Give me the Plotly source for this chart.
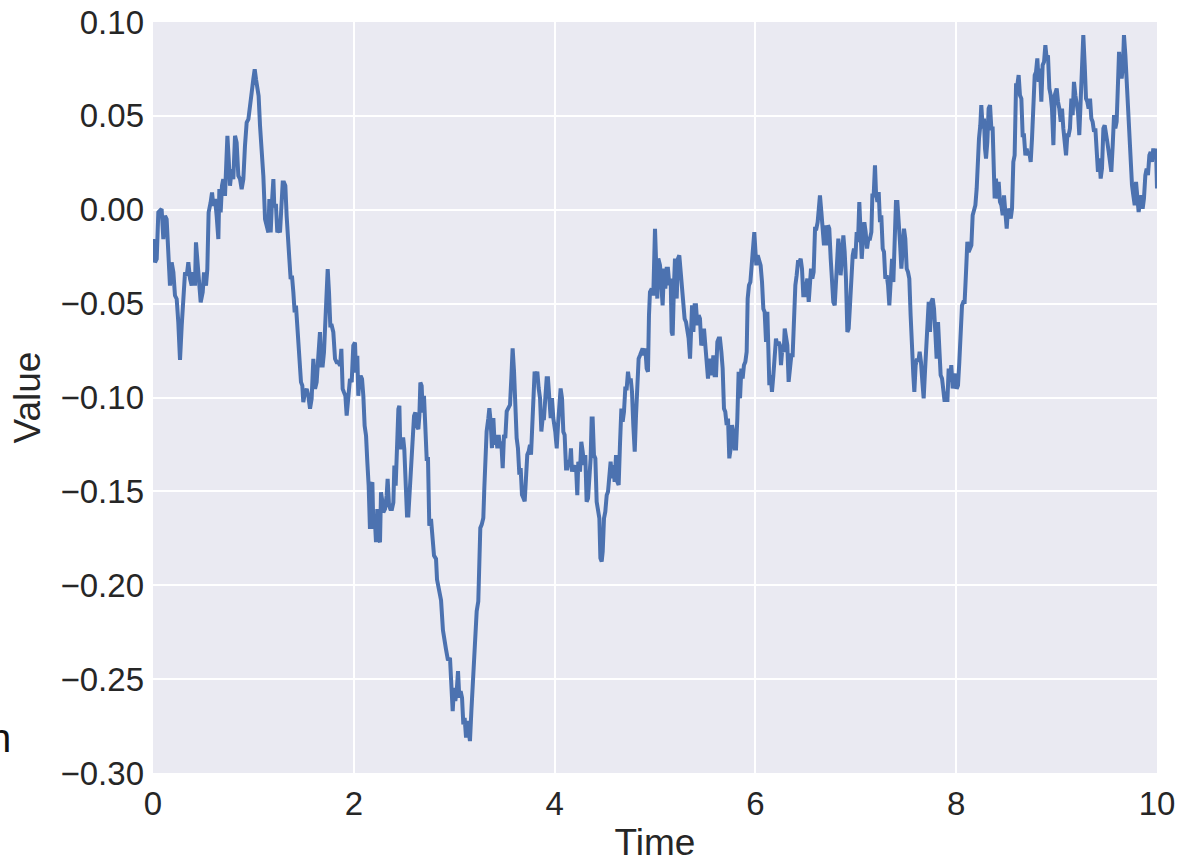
import plotly.graph_objects as go

# Time (x) and Value (y)
time_a = [0.000,0.003,0.020,0.037,0.053,0.086,0.103,0.120,0.136,0.153,0.169,0.186,0.203,0.219,0.236,0.252,0.269,0.286,0.302,0.319,0.336,0.352,0.369,0.385,0.402,0.418,0.428,0.442,0.462,0.475,0.495,0.508,0.528,0.541,0.554,0.574,0.588,0.601,0.618,0.634,0.651,0.661,0.674,0.687,0.700,0.717,0.727,0.741,0.754,0.767,0.784,0.800,0.817,0.833,0.850,0.867,0.883,0.900,0.916,0.933,0.950,0.966]
value_a = [-0.0175,-0.0156,-0.028,-0.0262,-0.0014,0.0004,-0.0156,-0.0032,-0.005,-0.0298,-0.0404,-0.028,-0.0333,-0.0457,-0.0475,-0.060,-0.080,-0.0617,-0.0511,-0.0333,-0.0351,-0.028,-0.0369,-0.0404,-0.0333,-0.0404,-0.0174,-0.0298,-0.0404,-0.0493,-0.044,-0.0333,-0.0404,-0.0316,-0.0014,0.0039,0.0092,0.0021,0.0057,-0.0032,-0.0156,0.011,-0.0014,0.0128,0.0163,0.0074,0.0234,0.0394,0.027,0.0128,0.0216,0.0163,0.0394,0.0358,0.0181,0.0163,0.011,0.0163,0.034,0.0465,0.0482,0.0535]

time_b = [0.983,0.999,1.013,1.026,1.039,1.052,1.066,1.082,1.099,1.116,1.132,1.149,1.159,1.172,1.185,1.199,1.208,1.225,1.238,1.252,1.265,1.278,1.292,1.305,1.318,1.331,1.345,1.358,1.371,1.384,1.398,1.411,1.424,1.438,1.451,1.464,1.474,1.487,1.497,1.514,1.531,1.547,1.564,1.580,1.597,1.614,1.630,1.647,1.663,1.673,1.690,1.703,1.716,1.730,1.740,1.753,1.766,1.780,1.796,1.813,1.829,1.846,1.863,1.876,1.889,1.902,1.916,1.929,1.946,1.962,1.979,1.995]
value_b = [0.0624,0.0695,0.0748,0.0695,0.0624,0.0606,0.0447,0.034,0.0181,-0.005,-0.0085,-0.0121,0.0057,-0.0121,0.0039,0.0163,0.0021,0.0021,-0.0121,-0.0103,-0.0121,0.0021,0.0145,0.0145,0.0128,-0.0032,-0.0121,-0.0262,-0.0369,-0.0351,-0.044,-0.0546,-0.0511,-0.0617,-0.0741,-0.0794,-0.0918,-0.0936,-0.1025,-0.0972,-0.0954,-0.099,-0.106,-0.1007,-0.0794,-0.0954,-0.0918,-0.0777,-0.0652,-0.083,-0.083,-0.0759,-0.0617,-0.044,-0.0316,-0.044,-0.0617,-0.0617,-0.0652,-0.0794,-0.0812,-0.0812,-0.083,-0.0741,-0.0954,-0.0972,-0.099,-0.1096,-0.099,-0.0901,-0.0918,-0.0723]

time_c = [2.012,2.022,2.035,2.045,2.055,2.068,2.082,2.095,2.108,2.122,2.135,2.148,2.161,2.171,2.185,2.195,2.208,2.221,2.234,2.248,2.261,2.271,2.281,2.294,2.311,2.327,2.337,2.351,2.364,2.380,2.394,2.404,2.417,2.430,2.444,2.454,2.463,2.477,2.493,2.503,2.517,2.530,2.543,2.560,2.573,2.586,2.600,2.613,2.626,2.643,2.653,2.663,2.676,2.686,2.699,2.712,2.726,2.739,2.752,2.769,2.782,2.799,2.819,2.829,2.869,2.888,2.918,2.938]
value_c = [-0.0707,-0.0867,-0.0778,-0.0991,-0.0902,-0.0885,-0.0902,-0.0991,-0.1151,-0.1204,-0.1346,-0.147,-0.170,-0.147,-0.1452,-0.170,-0.1629,-0.1771,-0.1594,-0.1754,-0.1771,-0.1505,-0.1541,-0.1612,-0.1594,-0.1523,-0.1434,-0.1576,-0.1594,-0.1594,-0.1559,-0.1363,-0.147,-0.1222,-0.1062,-0.1044,-0.1275,-0.1222,-0.1222,-0.1275,-0.1452,-0.1629,-0.1629,-0.1452,-0.1293,-0.1168,-0.1098,-0.108,-0.1151,-0.1168,-0.1098,-0.092,-0.0938,-0.108,-0.0991,-0.1151,-0.1328,-0.1328,-0.1683,-0.1647,-0.1754,-0.1842,-0.186,-0.197,-0.208,-0.224,-0.234,-0.240]

time_d = [2.958,2.971,2.985,2.998,3.011,3.025,3.038,3.051,3.064,3.078,3.091,3.104,3.118,3.131,3.144,3.157,3.171,3.191,3.207,3.224,3.240,3.250,3.260,3.274,3.290,3.300,3.310,3.323,3.340,3.350,3.363,3.376,3.390,3.403,3.416,3.430,3.443,3.456,3.469,3.483,3.496,3.509,3.523,3.539,3.556,3.569,3.582,3.596,3.609,3.622,3.635,3.649,3.662,3.675,3.689,3.702,3.715,3.728,3.742,3.755,3.765,3.775,3.788,3.801,3.815,3.828,3.841,3.855,3.868,3.881,3.894,3.908,3.921,3.934,3.948,3.961,3.974,3.987]
value_d = [-0.2387,-0.2564,-0.267,-0.2546,-0.2617,-0.2564,-0.2457,-0.2599,-0.2564,-0.2599,-0.2741,-0.2706,-0.2812,-0.2723,-0.2777,-0.283,-0.267,-0.2493,-0.2333,-0.2138,-0.2085,-0.189,-0.1695,-0.1677,-0.1642,-0.1482,-0.127,-0.1181,-0.111,-0.1057,-0.1128,-0.127,-0.111,-0.1252,-0.1199,-0.127,-0.1199,-0.127,-0.1234,-0.1376,-0.1199,-0.1216,-0.1074,-0.1057,-0.1039,-0.0897,-0.0738,-0.0862,-0.1074,-0.1216,-0.127,-0.1411,-0.1376,-0.1518,-0.1535,-0.1553,-0.1429,-0.1305,-0.1287,-0.1252,-0.1305,-0.1163,-0.1039,-0.0862,-0.0915,-0.0862,-0.095,-0.1004,-0.1181,-0.111,-0.111,-0.1021,-0.0897,-0.0897,-0.1004,-0.111,-0.1004,-0.111]

time_e = [4.007,4.021,4.034,4.047,4.060,4.074,4.087,4.100,4.114,4.127,4.140,4.153,4.163,4.173,4.187,4.200,4.213,4.226,4.236,4.253,4.266,4.280,4.293,4.306,4.319,4.333,4.346,4.359,4.369,4.379,4.392,4.406,4.419,4.432,4.446,4.456,4.469,4.479,4.492,4.505,4.519,4.532,4.545,4.558,4.572,4.585,4.598,4.612,4.625,4.638,4.651,4.665,4.678,4.691,4.704,4.718,4.731,4.744,4.758,4.771,4.784,4.798,4.811,4.824,4.837,4.851,4.864,4.877,4.890,4.904,4.917,4.930,4.940,4.950]
value_e = [-0.1183,-0.1271,-0.1147,-0.1076,-0.0952,-0.1005,-0.1183,-0.12,-0.1378,-0.1378,-0.1342,-0.1342,-0.1271,-0.1395,-0.136,-0.1395,-0.136,-0.152,-0.1342,-0.1395,-0.1236,-0.1289,-0.136,-0.1307,-0.1555,-0.1537,-0.1431,-0.1324,-0.1112,-0.1112,-0.1307,-0.1324,-0.1555,-0.159,-0.1644,-0.1856,-0.1874,-0.1821,-0.1644,-0.1608,-0.152,-0.1502,-0.1378,-0.1342,-0.1431,-0.136,-0.1449,-0.1307,-0.1449,-0.1466,-0.1254,-0.1059,-0.1129,-0.1076,-0.0952,-0.0952,-0.0863,-0.0917,-0.0899,-0.097,-0.1147,-0.1289,-0.1094,-0.0952,-0.0793,-0.0775,-0.0757,-0.0739,-0.0775,-0.0739,-0.0846,-0.0863,-0.0562,-0.0438]

time_f = [4.967,4.983,5.000,5.013,5.023,5.033,5.050,5.063,5.076,5.090,5.103,5.116,5.129,5.143,5.156,5.166,5.176,5.189,5.199,5.216,5.229,5.242,5.256,5.269,5.282,5.295,5.309,5.322,5.335,5.349,5.359,5.369,5.382,5.395,5.408,5.422,5.435,5.448,5.461,5.475,5.488,5.501,5.515,5.528,5.541,5.554,5.568,5.581,5.594,5.608,5.621,5.634,5.647,5.661,5.674,5.687,5.700,5.714,5.727,5.740,5.754,5.767,5.780,5.794,5.807,5.820,5.833,5.847,5.860,5.873,5.886,5.900,5.913,5.923,5.936,5.950,5.963,5.976,5.989]
value_f = [-0.042,-0.0456,-0.0101,-0.0278,-0.0473,-0.026,-0.0296,-0.0402,-0.0509,-0.0314,-0.042,-0.0314,-0.0314,-0.0402,-0.0367,-0.0651,-0.0669,-0.0402,-0.026,-0.0473,-0.026,-0.0243,-0.0332,-0.042,-0.0527,-0.058,-0.0598,-0.0651,-0.0686,-0.0793,-0.0651,-0.0509,-0.0651,-0.0509,-0.0509,-0.0615,-0.0562,-0.058,-0.0722,-0.0704,-0.0633,-0.0722,-0.0793,-0.0899,-0.0793,-0.0828,-0.0881,-0.0775,-0.0881,-0.0881,-0.0704,-0.0686,-0.0686,-0.0757,-0.0846,-0.1059,-0.1076,-0.1147,-0.1112,-0.1324,-0.1271,-0.1147,-0.1183,-0.1271,-0.1271,-0.1112,-0.0863,-0.1005,-0.0846,-0.0899,-0.0828,-0.081,-0.0757,-0.0473,-0.0402,-0.0385,-0.0243,-0.0207,-0.0119]

time_g = [6.009,6.023,6.036,6.052,6.066,6.079,6.092,6.106,6.119,6.129,6.139,6.152,6.165,6.179,6.192,6.205,6.218,6.232,6.245,6.255,6.268,6.282,6.292,6.305,6.318,6.331,6.345,6.358,6.371,6.384,6.398,6.411,6.424,6.438,6.451,6.464,6.477,6.491,6.504,6.517,6.531,6.544,6.554,6.567,6.580,6.594,6.607,6.620,6.633,6.643,6.657,6.670,6.683,6.697,6.710,6.723,6.736,6.750,6.763,6.776,6.790,6.803,6.816,6.826,6.836,6.849,6.863,6.876,6.889,6.902,6.916,6.929,6.942,6.955,6.969,6.982]
value_g = [-0.0296,-0.0243,-0.0261,-0.0296,-0.0385,-0.0527,-0.0544,-0.0704,-0.0544,-0.0704,-0.0934,-0.0881,-0.097,-0.0881,-0.081,-0.0686,-0.0722,-0.0704,-0.0722,-0.0828,-0.0739,-0.0757,-0.0633,-0.0668,-0.0722,-0.0917,-0.0863,-0.0775,-0.0775,-0.0562,-0.0402,-0.0349,-0.0278,-0.0278,-0.0261,-0.0314,-0.0456,-0.0456,-0.0385,-0.0367,-0.0491,-0.0385,-0.0314,-0.0367,-0.0332,-0.0101,-0.0101,-0.0066,0.0059,0.0076,-0.0012,-0.0083,-0.019,-0.0083,-0.019,-0.0083,-0.0101,-0.0261,-0.0349,-0.0491,-0.0509,-0.0349,-0.0261,-0.0154,-0.0207,-0.0349,-0.0243,-0.0137,-0.0225,-0.0367,-0.0651,-0.0633,-0.0509,-0.0349,-0.0243,-0.0207]

time_h = [6.995,7.009,7.022,7.035,7.045,7.059,7.072,7.085,7.098,7.112,7.125,7.141,7.155,7.165,7.178,7.191,7.201,7.215,7.228,7.241,7.254,7.268,7.281,7.294,7.308,7.321,7.334,7.347,7.361,7.374,7.387,7.400,7.414,7.427,7.440,7.454,7.467,7.480,7.493,7.507,7.520,7.533,7.546,7.560,7.573,7.583,7.596,7.610,7.623,7.636,7.649,7.663,7.676,7.689,7.703,7.716,7.726,7.739,7.752,7.766,7.779,7.792,7.805,7.819,7.832,7.845,7.859,7.872,7.885,7.898,7.912,7.925,7.938,7.951,7.965,7.978]
value_h = [-0.0261,-0.0119,-0.0172,0.0041,-0.0119,-0.0261,-0.0154,-0.0066,-0.0119,-0.0207,-0.0154,-0.0154,-0.0119,0.0076,0.0076,0.0236,0.0094,0.0041,0.0094,-0.0066,-0.003,-0.0207,-0.0225,-0.0367,-0.0349,-0.0402,-0.0509,-0.0385,-0.0261,-0.0385,-0.0154,0.0041,0.0041,-0.0048,-0.0172,-0.0314,-0.0207,-0.0101,-0.0154,-0.0314,-0.0332,-0.0367,-0.0562,-0.081,-0.0881,-0.097,-0.0828,-0.0793,-0.081,-0.0757,-0.081,-0.0917,-0.1005,-0.0863,-0.0722,-0.0668,-0.0491,-0.0651,-0.0491,-0.0473,-0.0527,-0.0651,-0.0793,-0.0598,-0.0775,-0.0881,-0.0899,-0.0952,-0.1023,-0.097,-0.1023,-0.0846,-0.0917,-0.0828,-0.0952,-0.0881]

time_i = [7.991,8.005,8.018,8.031,8.044,8.058,8.071,8.084,8.098,8.111,8.124,8.137,8.151,8.164,8.177,8.191,8.204,8.214,8.227,8.240,8.250,8.264,8.277,8.287,8.297,8.310,8.323,8.337,8.350,8.363,8.373,8.383,8.396,8.410,8.423,8.436,8.450,8.463,8.476,8.489,8.503,8.516,8.529,8.543,8.556,8.569,8.582,8.596,8.609,8.622,8.635,8.649,8.662,8.675,8.689,8.702,8.715,8.728,8.742,8.755,8.768,8.782,8.795,8.808,8.821,8.835,8.848,8.861,8.875,8.888,8.901,8.914,8.928,8.941,8.954,8.968,8.981]
value_i = [-0.0882,-0.0953,-0.0935,-0.0811,-0.0704,-0.0509,-0.0491,-0.0491,-0.0331,-0.0171,-0.0225,-0.0207,-0.0189,-0.0029,0.0006,0.0024,0.0113,0.029,0.0379,0.045,0.0557,0.0433,0.0486,0.0326,0.0273,0.0361,0.0539,0.0557,0.0433,0.0433,0.0219,0.006,0.0166,0.006,0.0148,0.0042,0.0024,-0.0029,0.0077,-0.0029,-0.010,0.0006,-0.0012,-0.0047,0.0006,0.0255,0.029,0.0663,0.0663,0.0717,0.061,0.0592,0.0397,0.0397,0.029,0.0326,0.029,0.0308,0.0255,0.0379,0.0575,0.0717,0.0734,0.0806,0.0681,0.0752,0.0575,0.077,0.0788,0.0877,0.0806,0.0823,0.0646,0.061,0.0539,0.0344,0.061]

time_j = [9.001,9.014,9.027,9.041,9.054,9.067,9.080,9.094,9.107,9.120,9.133,9.147,9.160,9.173,9.187,9.200,9.213,9.226,9.240,9.253,9.266,9.280,9.293,9.306,9.319,9.333,9.346,9.359,9.373,9.386,9.399,9.412,9.426,9.439,9.452,9.466,9.479,9.492,9.505,9.519,9.532,9.545,9.559,9.572,9.585,9.598,9.612,9.622,9.635,9.648,9.661,9.671,9.685,9.698,9.711,9.724,9.738,9.751,9.764,9.778,9.791,9.804,9.817,9.831,9.844,9.857,9.870,9.884,9.897,9.910,9.924,9.937,9.950,9.963,9.977,9.990,10.000]
value_j = [0.0646,0.0575,0.0539,0.0468,0.0539,0.0433,0.0344,0.029,0.0397,0.0397,0.0433,0.0592,0.0504,0.0681,0.061,0.0557,0.0521,0.0397,0.0575,0.0681,0.093,0.077,0.0592,0.0575,0.0539,0.0592,0.0486,0.0468,0.0415,0.0433,0.029,0.0202,0.0273,0.0166,0.0219,0.0433,0.045,0.0379,0.0361,0.0308,0.0255,0.0202,0.0344,0.0504,0.0433,0.0468,0.0681,0.0841,0.0752,0.0699,0.077,0.093,0.0823,0.0681,0.0539,0.0397,0.0255,0.0131,0.0077,0.0024,0.0148,0.0077,-0.0012,0.0042,0.0077,0.0006,0.006,0.0184,0.0219,0.0184,0.029,0.0308,0.0255,0.0326,0.029,0.0326,0.0113]

time = time_a + time_b + time_c + time_d + time_e + time_f + time_g + time_h + time_i + time_j
value = value_a + value_b + value_c + value_d + value_e + value_f + value_g + value_h + value_i + value_j

x_ticks = [0, 2, 4, 6, 8, 10]
y_ticks = [0.10, 0.05, 0.00, -0.05, -0.10, -0.15, -0.20, -0.25, -0.30]

FONT = "Liberation Sans, Arial, Helvetica, sans-serif"
TXT = "#262626"

fig = go.Figure()
fig.add_trace(go.Scatter(x=time, y=value, mode="lines",
                         line=dict(color="#4C72B0", width=4), showlegend=False))

fig.update_layout(
    width=1197, height=863,
    margin=dict(l=153, r=40, t=22, b=90),
    paper_bgcolor="white", plot_bgcolor="#EAEAF2",
    font=dict(family=FONT, color=TXT, size=33),
    xaxis=dict(range=[0, 10], tickvals=x_ticks, ticktext=[str(v) for v in x_ticks],
               showgrid=True, gridcolor="white", gridwidth=2, zeroline=False,
               showline=False, ticks="", tickfont=dict(size=33, color=TXT),
               ticklabelstandoff=8, automargin=False,
               title=dict(text="Time", font=dict(size=37, color=TXT), standoff=10)),
    yaxis=dict(range=[-0.30, 0.10], tickvals=y_ticks, tickformat=".2f",
               showgrid=True, gridcolor="white", gridwidth=2, zeroline=False,
               showline=False, ticks="", tickfont=dict(size=33, color=TXT),
               ticklabelstandoff=8, automargin=False,
               title=dict(text="Value", font=dict(size=37, color=TXT), standoff=8)),
)

fig.add_annotation(text="n", xref="paper", yref="paper", x=-0.1524, y=0.0466,
                   xanchor="center", yanchor="middle", showarrow=False,
                   font=dict(family=FONT, size=40, color="#111111"))

fig.write_html("out.html")
